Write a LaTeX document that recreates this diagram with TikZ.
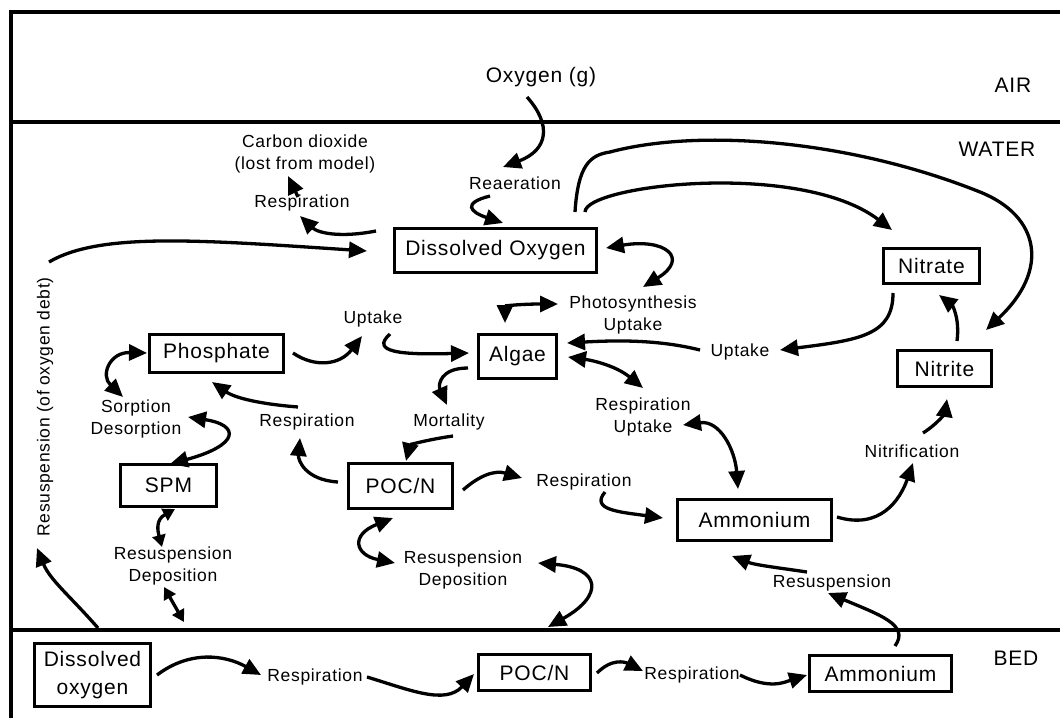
\documentclass[tikz,border=0pt]{standalone}
\usepackage{fontspec}
\newfontfamily\diagfont{Liberation Sans}[LetterSpace=3.8]
\usetikzlibrary{arrows.meta}

\tikzset{
  compartment/.style={draw, line width=2.8pt, inner sep=0pt, align=center,
    font=\diagfont\fontsize{21}{28}\selectfont},
  lbl/.style={inner sep=0pt, align=center, font=\diagfont\fontsize{17.5}{22}\selectfont},
  zone/.style={inner sep=0pt, font=\diagfont\fontsize{21}{24}\selectfont},
  flow/.style={line width=3.3pt, -{Triangle[length=18pt,width=16pt]}},
  twoway/.style={line width=3.3pt, {Triangle[length=18pt,width=16pt]}-{Triangle[length=18pt,width=16pt]}},
  shorttwoway/.style={line width=3.3pt, {Triangle[length=12pt,width=13pt]}-{Triangle[length=12pt,width=13pt]}},
  layerline/.style={line width=3.2pt},
}

\begin{document}
\begin{tikzpicture}[x=1pt, y=-1pt]
\useasboundingbox (0,0) rectangle (1060,718);

% layer boundaries
\draw[layerline] (1060,12) -- (11,12) -- (11,718);
\draw[layerline] (11,122) -- (1060,122);
\draw[layerline] (11,630) -- (1060,630);

% layer names
\node[zone] (air) at (1013,85) {AIR};
\node[zone] (water) at (997,149) {WATER};
\node[zone] (bed) at (1016,658) {BED};
\node[zone] (oxg) at (541,77) {Oxygen (g)};

% state variables
\node[compartment, minimum width=202pt, minimum height=44pt] (do) at (495.5,250.5) {Dissolved Oxygen};
\node[compartment, minimum width=96pt, minimum height=35pt] (nitrate) at (931.5,266) {Nitrate};
\node[compartment, minimum width=94pt, minimum height=36pt] (nitrite) at (944.5,368.5) {Nitrite};
\node[compartment, minimum width=134pt, minimum height=38pt] (phos) at (216.5,353.5) {Phosphate};
\node[compartment, minimum width=78pt, minimum height=44pt] (algae) at (517.5,356.5) {Algae};
\node[compartment, minimum width=96pt, minimum height=42pt] (spm) at (168.5,485.5) {SPM};
\node[compartment, minimum width=104pt, minimum height=45pt] (pocw) at (400.5,486) {POC/N};
\node[compartment, minimum width=154pt, minimum height=41pt] (ammw) at (754.5,520) {Ammonium};
\node[compartment, minimum width=116pt, minimum height=63pt] (beddo) at (92.5,675) {Dissolved\\oxygen};
\node[compartment, minimum width=112pt, minimum height=36pt] (pocb) at (534.5,672.5) {POC/N};
\node[compartment, minimum width=142pt, minimum height=36pt] (ammb) at (880.5,673.5) {Ammonium};

% process labels
\node[lbl] (co2) at (305,154) {Carbon dioxide\\(lost from model)};
\node[lbl] (respco2) at (302,203) {Respiration};
\node[lbl] (reaer) at (515,183) {Reaeration};
\node[lbl, rotate=90] (resdebt) at (45,407) {Resuspension (of oxygen debt)};
\node[lbl] (photo) at (633,315) {Photosynthesis\\Uptake};
\node[lbl] (uptp) at (373,319) {Uptake};
\node[lbl] (uptn) at (740,352) {Uptake};
\node[lbl] (sorp) at (136,418.5) {Sorption\\Desorption};
\node[lbl] (respm) at (307,422) {Respiration};
\node[lbl] (mort) at (449,422) {Mortality};
\node[lbl] (respu) at (643,417) {Respiration\\Uptake};
\node[lbl] (nitrif) at (912,451) {Nitrification};
\node[lbl] (respa) at (584,482) {Respiration};
\node[lbl] (rdl) at (173,565.5) {Resuspension\\Deposition};
\node[lbl] (rdc) at (463,570) {Resuspension\\Deposition};
\node[lbl] (resr) at (832,583) {Resuspension};
\node[lbl] (respb1) at (315,677) {Respiration};
\node[lbl] (respb2) at (692,675) {Respiration};

% connector end points
\coordinate (o2s) at (527,97);   \coordinate (o2e) at (503,167);
\coordinate (rea1) at (490,196); \coordinate (rea2) at (503,223);
\coordinate (dor1) at (376,231); \coordinate (dor2) at (300,216);
\coordinate (rc1) at (298,197);  \coordinate (rc2) at (288,176);
\coordinate (deb1) at (49,262);  \coordinate (deb2) at (367,251);
\coordinate (bdb1) at (98,628);  \coordinate (bdb2) at (37,548);
\coordinate (dph1) at (606,248); \coordinate (dph2) at (643,287);
\coordinate (aph1) at (505,323); \coordinate (aph2) at (558,304);
\coordinate (pu1) at (293,353);  \coordinate (pu2) at (362,336);
\coordinate (ua1) at (390,334);  \coordinate (ua2) at (469,353);
\coordinate (un1) at (700,350);  \coordinate (un2) at (567,343);
\coordinate (nu1) at (893,293);  \coordinate (nu2) at (780,350);
\coordinate (dn1) at (585,212);  \coordinate (dn2) at (892,230);
\coordinate (dt1) at (575,212);  \coordinate (dt2) at (986,330);
\coordinate (tn1) at (957,341);  \coordinate (tn2) at (939,295);
\coordinate (am1) at (468,368);  \coordinate (am2) at (447,405);
\coordinate (ar1) at (568,357);  \coordinate (ar2) at (643,388);
\coordinate (ru1) at (683,425);  \coordinate (ru2) at (738,489);
\coordinate (mp1) at (453,436);  \coordinate (mp2) at (406,461);
\coordinate (pr1) at (338,482);  \coordinate (pr2) at (300,438);
\coordinate (rp1) at (298,407);  \coordinate (rp2) at (212,382);
\coordinate (ps1) at (147,353);  \coordinate (ps2) at (123,397);
\coordinate (ds1) at (188,417);  \coordinate (ds2) at (170,464);
\coordinate (sr1) at (175,509);  \coordinate (sr2) at (162,547);
\coordinate (db1) at (164,587);  \coordinate (db2) at (184,622);
\coordinate (pd1) at (393,518);  \coordinate (pd2) at (395,563);
\coordinate (cb1) at (538,563);  \coordinate (cb2) at (548,627);
\coordinate (pa1) at (463,490);  \coordinate (pa2) at (522,478);
\coordinate (ra1) at (605,492);  \coordinate (ra2) at (663,518);
\coordinate (an1) at (837,517);  \coordinate (an2) at (913,463);
\coordinate (nt1) at (923,433);  \coordinate (nt2) at (947,399);
\coordinate (rr1) at (807,572);  \coordinate (rr2) at (732,556);
\coordinate (br1) at (895,646);  \coordinate (br2) at (828,593);
\coordinate (b11) at (157,675);  \coordinate (b12) at (261,675);
\coordinate (b21) at (367,677);  \coordinate (b22) at (474,674);
\coordinate (b31) at (597,673);  \coordinate (b32) at (643,671);
\coordinate (b41) at (740,675);  \coordinate (b42) at (807,675);

% air - water exchange
\draw[flow] (o2s) .. controls (552,125) and (548,150) .. (o2e);
\draw[flow] (rea1) .. controls (462,203) and (470,212) .. (rea2);
\draw[flow] (dor1) .. controls (340,238) and (318,233) .. (dor2);
\draw[flow] (rc1) -- (rc2);

% oxygen debt returned from the bed
\draw[flow] (deb1) .. controls (100,232) and (200,240) .. (deb2);
\draw[flow] (bdb1) .. controls (70,596) and (50,580) .. (bdb2);

% oxygen use by nitrification
\draw[flow] (dn1) .. controls (585,185) and (800,160) .. (dn2);
\draw[flow] (dt1) .. controls (578,165) and (590,155) .. (610,152)
  .. controls (700,128) and (850,140) .. (980,192)
  .. controls (1040,216) and (1050,270) .. (dt2);

% algae
\draw[twoway] (dph1) .. controls (665,238) and (690,258) .. (dph2);
\draw[twoway] (aph1) .. controls (505,306) and (520,304) .. (aph2);
\draw[flow] (pu1) .. controls (315,368) and (340,365) .. (pu2);
\draw[flow] (ua1) .. controls (370,352) and (400,355) .. (ua2);
\draw[flow] (un1) .. controls (660,340) and (620,340) .. (un2);
\draw[flow] (nu1) .. controls (893,335) and (860,340) .. (nu2);
\draw[flow] (am1) .. controls (440,368) and (438,385) .. (am2);
\draw[twoway] (ar1) .. controls (590,360) and (615,365) .. (ar2);
\draw[twoway] (ru1) .. controls (720,420) and (735,450) .. (ru2);

% organic matter and phosphate
\draw[flow] (mp1) .. controls (425,440) and (410,445) .. (mp2);
\draw[flow] (pr1) .. controls (305,480) and (298,460) .. (pr2);
\draw[flow] (rp1) .. controls (260,404) and (235,398) .. (rp2);
\draw[twoway] (ps1) .. controls (110,352) and (100,375) .. (ps2);
\draw[twoway] (ds1) .. controls (240,425) and (240,445) .. (ds2);
\draw[shorttwoway] (sr1) .. controls (155,520) and (158,532) .. (sr2);
\draw[shorttwoway] (db1) -- (db2);
\draw[twoway] (pd1) .. controls (350,535) and (355,555) .. (pd2);
\draw[twoway] (cb1) .. controls (600,568) and (605,595) .. (cb2);

% nitrogen
\draw[flow] (pa1) .. controls (480,475) and (495,470) .. (pa2);
\draw[flow] (ra1) .. controls (590,510) and (620,512) .. (ra2);
\draw[flow] (an1) .. controls (880,530) and (900,500) .. (an2);
\draw[flow] (nt1) .. controls (940,422) and (945,412) .. (nt2);
\draw[flow] (tn1) .. controls (960,318) and (952,305) .. (tn2);
\draw[flow] (rr1) .. controls (780,568) and (755,565) .. (rr2);
\draw[flow] (br1) .. controls (910,625) and (880,615) .. (br2);

% bed processes
\draw[flow] (b11) .. controls (190,650) and (225,655) .. (b12);
\draw[flow] (b21) .. controls (410,690) and (445,705) .. (b22);
\draw[flow] (b31) .. controls (612,658) and (625,662) .. (b32);
\draw[flow] (b41) .. controls (770,690) and (785,682) .. (b42);
\end{tikzpicture}
\end{document}
